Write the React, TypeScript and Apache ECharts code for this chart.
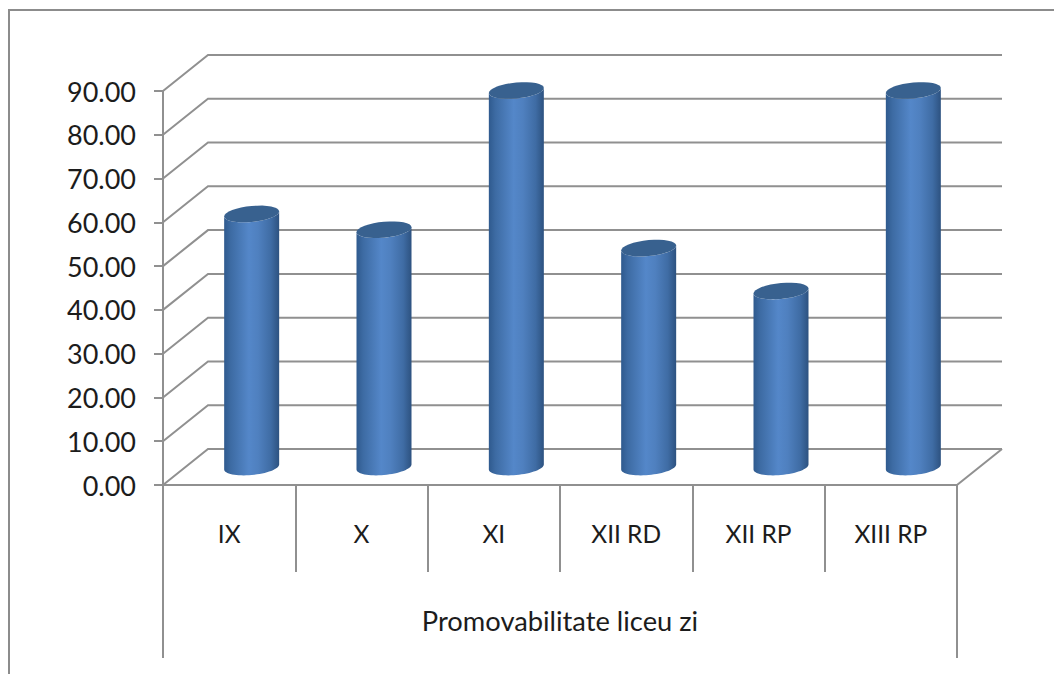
import React, { useEffect, useRef } from "react";
import * as echarts from "echarts";

const categories = ["IX", "X", "XI", "XII RD", "XII RP", "XIII RP"];
const values = [57.8, 54.2, 86, 50, 40.2, 86];
const yTicks = [0, 10, 20, 30, 40, 50, 60, 70, 80, 90];
const axisTitle = "Promovabilitate liceu zi";

const LINE = "#909090";
const TEXT = "#1c1c1c";
const FONT = "Lato";
const DX = 45;
const DY = -36;
const MIDY = -18;
const MIDX = 22.5;
const A = 27.5;
const B = 8;
const K = 2.5;

function arc(cx: number, cy: number, from: number, to: number) {
  const pts: number[][] = [];
  const n = 32;
  for (let i = 0; i <= n; i++) {
    const t = from + ((to - from) * i) / n;
    pts.push([cx + A * Math.cos(t), cy + B * Math.sin(t) - K * Math.cos(t)]);
  }
  return pts;
}

const lineStyle = { stroke: LINE, lineWidth: 2, fill: "none" };

export default function App() {
  const ref = useRef<HTMLDivElement>(null);
  useEffect(() => {
    const chart = echarts.init(ref.current!, undefined, { renderer: "svg" });
    const bodyFill = new echarts.graphic.LinearGradient(0, 0, 1, 0, [
      { offset: 0, color: "#2f5a8e" },
      { offset: 0.12, color: "#3d6ba3" },
      { offset: 0.45, color: "#5487c9" },
      { offset: 0.62, color: "#4f80bf" },
      { offset: 0.85, color: "#3f6ca4" },
      { offset: 1, color: "#2d5280" },
    ]);
    chart.setOption({
      animation: false,
      backgroundColor: "#ffffff",
      grid: { left: 163, right: 97, top: 91, bottom: 189, containLabel: false },
      graphic: [
        { type: "line", shape: { x1: 8, y1: 10, x2: 1054, y2: 10 }, style: { stroke: "#8c8c8c", lineWidth: 2 } },
        { type: "line", shape: { x1: 9, y1: 10, x2: 9, y2: 674 }, style: { stroke: "#8c8c8c", lineWidth: 2 } },
      ],
      xAxis: {
        type: "category",
        data: categories,
        axisLine: { lineStyle: { color: LINE, width: 2 } },
        axisTick: { show: true, length: 87, lineStyle: { color: LINE, width: 2 } },
        axisLabel: { color: TEXT, fontFamily: FONT, fontSize: 24.5, margin: 36 },
        name: axisTitle,
        nameLocation: "middle",
        nameGap: 122,
        nameTextStyle: { color: TEXT, fontFamily: FONT, fontSize: 27.3 },
      },
      yAxis: {
        type: "value",
        min: 0,
        max: 90,
        interval: 10,
        axisLine: { show: true, lineStyle: { color: LINE, width: 2 } },
        axisTick: { show: true, length: 9, lineStyle: { color: LINE, width: 2 } },
        axisLabel: {
          color: TEXT,
          fontFamily: FONT,
          fontSize: 27,
          margin: 27,
          formatter: (v: number) => v.toFixed(2),
        },
        splitLine: { show: false },
      },
      series: [
        {
          type: "custom",
          z: 1,
          data: yTicks.map((v) => [0, v]),
          renderItem: (params: any, api: any) => {
            const g = params.coordSys;
            const y = api.coord([0, api.value(1)])[1];
            const left = g.x;
            const right = g.x + g.width;
            const children: any[] = [
              {
                type: "polyline",
                shape: { points: [[left, y], [left + DX, y + DY], [right + DX, y + DY]] },
                style: lineStyle,
              },
            ];
            if (api.value(1) === 0) {
              children.push(
                { type: "line", shape: { x1: right, y1: y, x2: right + DX, y2: y + DY }, style: lineStyle },
                { type: "line", shape: { x1: left, y1: y, x2: left, y2: y + 173 }, style: lineStyle },
                { type: "line", shape: { x1: right, y1: y, x2: right, y2: y + 173 }, style: lineStyle }
              );
            }
            return { type: "group", children };
          },
        },
        {
          type: "custom",
          z: 3,
          data: values.map((v, i) => [i, v]),
          renderItem: (_params: any, api: any) => {
            const i = api.value(0);
            const [x, yTop] = api.coord([i, api.value(1)]);
            const y0 = api.coord([i, 0])[1];
            const cx = x + MIDX;
            const ty = yTop + MIDY;
            const by = y0 + MIDY;
            const body = [
              ...arc(cx, by, Math.PI, 0),
              ...arc(cx, ty, 0, Math.PI),
            ];
            return {
              type: "group",
              children: [
                { type: "polygon", shape: { points: body }, style: { fill: bodyFill } },
                {
                  type: "polygon",
                  shape: { points: arc(cx, ty, 0, Math.PI * 2) },
                  style: { fill: "#38618f" },
                },
              ],
            };
          },
        },
      ],
    });
    return () => chart.dispose();
  }, []);
  return (
    <div
      ref={ref}
      style={{ position: "fixed", left: 0, top: 0, width: 1054, height: 674 }}
    />
  );
}
